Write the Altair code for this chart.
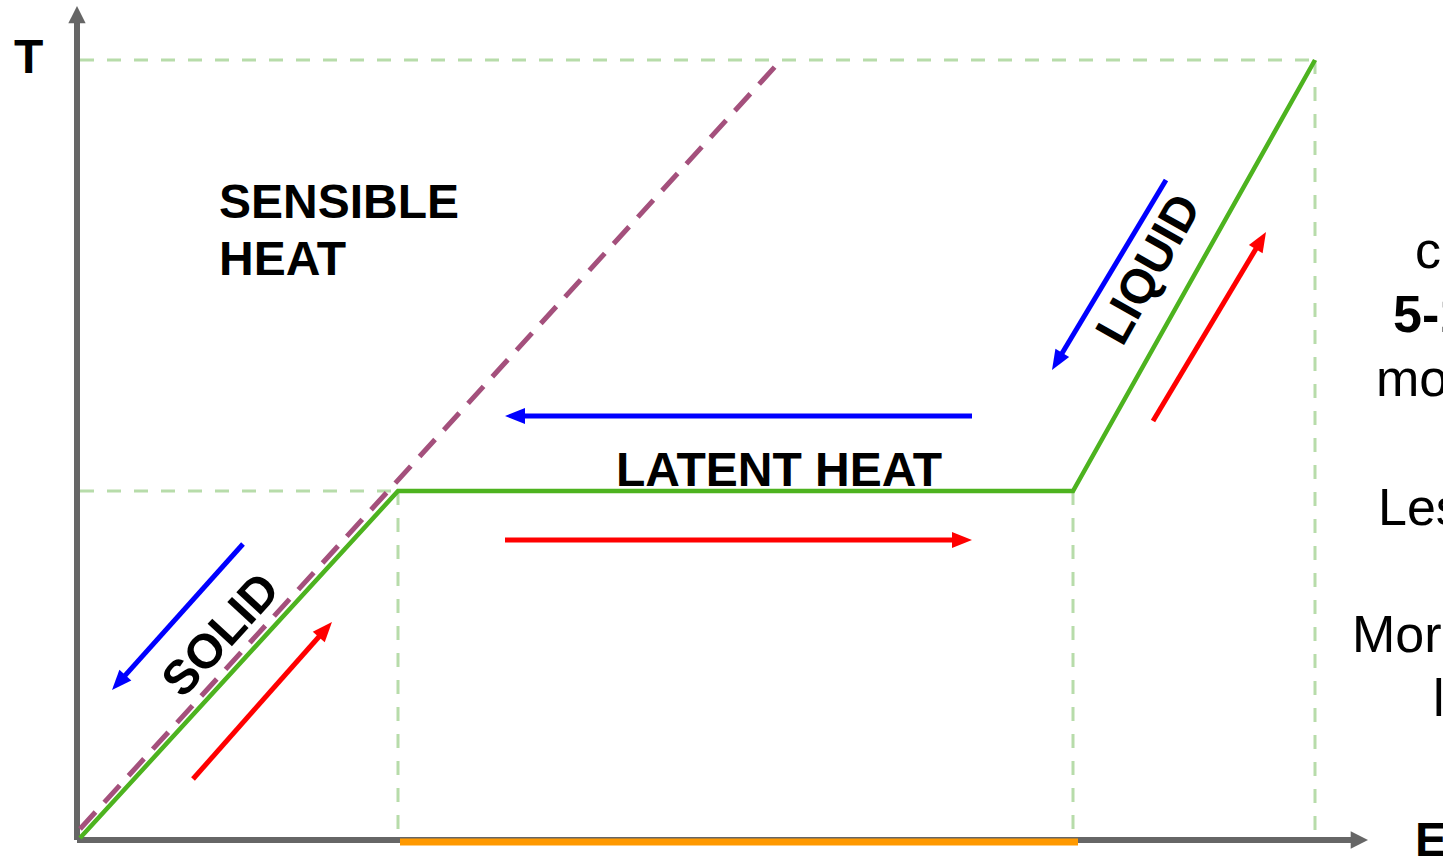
import math
import altair as alt
import pandas as pd

# Coordinate system: E (energy, x) and T (temperature, y); origin at the axes corner
E_DOMAIN = [-80, 1363]
T_DOMAIN = [-20, 838]

# Green heating curve (solid -> melting -> liquid)
curve_E = [0, 318, 993, 1235]
curve_T = [0, 347, 347, 778]

# Purple dashed "sensible heat only" line
sens_E = [0, 702]
sens_T = [9, 779]

# Light green dashed guide lines (E1, T1, E2, T2)
guide_E1 = [0, 1235, 0, 318, 993]
guide_T1 = [778, 778, 347, 347, 347]
guide_E2 = [1235, 1235, 318, 318, 993]
guide_T2 = [778, 2, 347, 2, 2]

# Orange band on the E axis (latent heat span)
band_E = [320, 998]
band_T = -4

# Axes (start, end of shaft, arrow tip)
yaxis_E = -3
yaxis_T = [-2, 815, 832]
xaxis_T = -2
xaxis_E = [-3, 1272, 1288]

# Process arrows: tail (E, T) -> tip (E, T)
arrow_names = ["cool_solid", "heat_solid", "cool_latent", "heat_latent", "cool_liquid", "heat_liquid"]
arrow_tail_E = [163, 113, 892, 425, 1086, 1073]
arrow_tail_T = [294, 59, 422, 298, 658, 417]
arrow_tip_E = [32, 252, 425, 892, 972, 1186]
arrow_tip_T = [148, 216, 422, 298, 468, 606]
arrow_colors = ["#0000ff", "#ff0000", "#0000ff", "#ff0000", "#0000ff", "#ff0000"]

# Labels
bold_labels = ["SENSIBLE", "HEAT", "LATENT HEAT", "T", "E"]
bold_E = [139, 139, 536, -66, 1335]
bold_T = [620, 563, 352, 765, -18]

rot_labels = ["SOLID", "LIQUID"]
rot_E = [142, 1070]
rot_T = [202, 568]
rot_angle = [312.5, 299.3]

side_labels = ["can store", "5-14 times", "more heat", "Less volume", "More stable", "latent"]
side_E = [1335, 1313, 1296, 1298, 1272, 1353]
side_T = [570, 506, 442, 313, 186, 122]
side_bold = [False, True, False, False, False, False]

FONT = "Liberation Sans"

xs = alt.Scale(domain=E_DOMAIN, nice=False, zero=False)
ys = alt.Scale(domain=T_DOMAIN, nice=False, zero=False)
X = lambda f: alt.X(f, type="quantitative", scale=xs, axis=None)
Y = lambda f: alt.Y(f, type="quantitative", scale=ys, axis=None)

# ---- dataframes
guides = pd.DataFrame({"e": guide_E1, "t": guide_T1, "e2": guide_E2, "t2": guide_T2})
curve = pd.DataFrame({"e": curve_E, "t": curve_T, "i": range(len(curve_E))})
sens = pd.DataFrame({"e": [sens_E[0]], "t": [sens_T[0]], "e2": [sens_E[1]], "t2": [sens_T[1]]})
band = pd.DataFrame({"e": [band_E[0]], "e2": [band_E[1]], "t": [band_T], "t2": [band_T]})
axes_df = pd.DataFrame({
    "e": [yaxis_E, xaxis_E[0]], "t": [yaxis_T[0], xaxis_T],
    "e2": [yaxis_E, xaxis_E[1]], "t2": [yaxis_T[1], xaxis_T],
})
axis_heads = pd.DataFrame({
    "e": [yaxis_E, xaxis_E[2]], "t": [yaxis_T[2], xaxis_T], "ang": [0, 90],
})

rows = []
for n, te, tt, pe, pt, c in zip(arrow_names, arrow_tail_E, arrow_tail_T, arrow_tip_E, arrow_tip_T, arrow_colors):
    de, dt = pe - te, pt - tt
    L = math.hypot(de, dt)
    ue, ut = de / L, dt / L
    rows.append({
        "name": n, "e": te, "t": tt, "e2": pe - ue * 12, "t2": pt - ut * 12,
        "tipE": pe, "tipT": pt, "ang": math.degrees(math.atan2(de, dt)) % 360, "c": c,
    })
arrows = pd.DataFrame(rows)

bold_df = pd.DataFrame({"label": bold_labels, "e": bold_E, "t": bold_T})
rot_df = pd.DataFrame({"label": rot_labels, "e": rot_E, "t": rot_T, "ang": rot_angle})
side_df = pd.DataFrame({"label": side_labels, "e": side_E, "t": side_T, "b": side_bold})

# ---- layers
guide_layer = alt.Chart(guides).mark_rule(
    color="#b7dcaa", strokeWidth=3, strokeDash=[14, 13]
).encode(x=X("e"), y=Y("t"), x2="e2", y2="t2")

axes_layer = alt.Chart(axes_df).mark_rule(color="#666666", strokeWidth=6).encode(
    x=X("e"), y=Y("t"), x2="e2", y2="t2")

axis_head_layer = alt.Chart(axis_heads).mark_point(
    shape="M0,0L1,2L-1,2Z", filled=True, color="#666666", opacity=1, size=300
).encode(x=X("e"), y=Y("t"), angle=alt.Angle("ang:Q", scale=None))

band_layer = alt.Chart(band).mark_rule(color="#ff9900", strokeWidth=7).encode(
    x=X("e"), y=Y("t"), x2="e2", y2="t2")

sens_layer = alt.Chart(sens).mark_rule(
    color="#a4507c", strokeWidth=5, strokeDash=[23, 13]
).encode(x=X("e"), y=Y("t"), x2="e2", y2="t2")

curve_layer = alt.Chart(curve).mark_line(
    color="#4db31f", strokeWidth=4.5, strokeJoin="miter"
).encode(x=X("e"), y=Y("t"), order="i:Q")

arrow_shaft = alt.Chart(arrows).mark_rule(strokeWidth=5).encode(
    x=X("e"), y=Y("t"), x2="e2", y2="t2",
    color=alt.Color("c:N", scale=None))

arrow_head = alt.Chart(arrows).mark_point(
    shape="M0,0L0.8,2L-0.8,2Z", filled=True, opacity=1, size=400
).encode(x=X("tipE"), y=Y("tipT"), angle=alt.Angle("ang:Q", scale=None),
         color=alt.Color("c:N", scale=None))

bold_text = alt.Chart(bold_df).mark_text(
    font=FONT, fontSize=48, fontWeight="bold", align="left", baseline="alphabetic", color="black"
).encode(x=X("e"), y=Y("t"), text="label:N")

rot_text = alt.Chart(rot_df).mark_text(
    font=FONT, fontSize=48, fontWeight="bold", align="center", baseline="middle", color="black"
).encode(x=X("e"), y=Y("t"), text="label:N", angle=alt.Angle("ang:Q", scale=None))

side_plain = alt.Chart(side_df).transform_filter("!datum.b").mark_text(
    font=FONT, fontSize=52, align="left", baseline="alphabetic", color="black"
).encode(x=X("e"), y=Y("t"), text="label:N")

side_strong = alt.Chart(side_df).transform_filter("datum.b").mark_text(
    font=FONT, fontSize=52, fontWeight="bold", align="left", baseline="alphabetic", color="black"
).encode(x=X("e"), y=Y("t"), text="label:N")

chart = alt.layer(
    guide_layer, axes_layer, axis_head_layer, band_layer, sens_layer, curve_layer,
    arrow_shaft, arrow_head, bold_text, rot_text, side_plain, side_strong,
).properties(
    width=1443, height=858, padding=0, autosize=alt.AutoSizeParams(type="none"),
    background="white",
).configure_view(stroke=None)

chart.save("out.html", embed_options={"renderer": "svg", "actions": False})
